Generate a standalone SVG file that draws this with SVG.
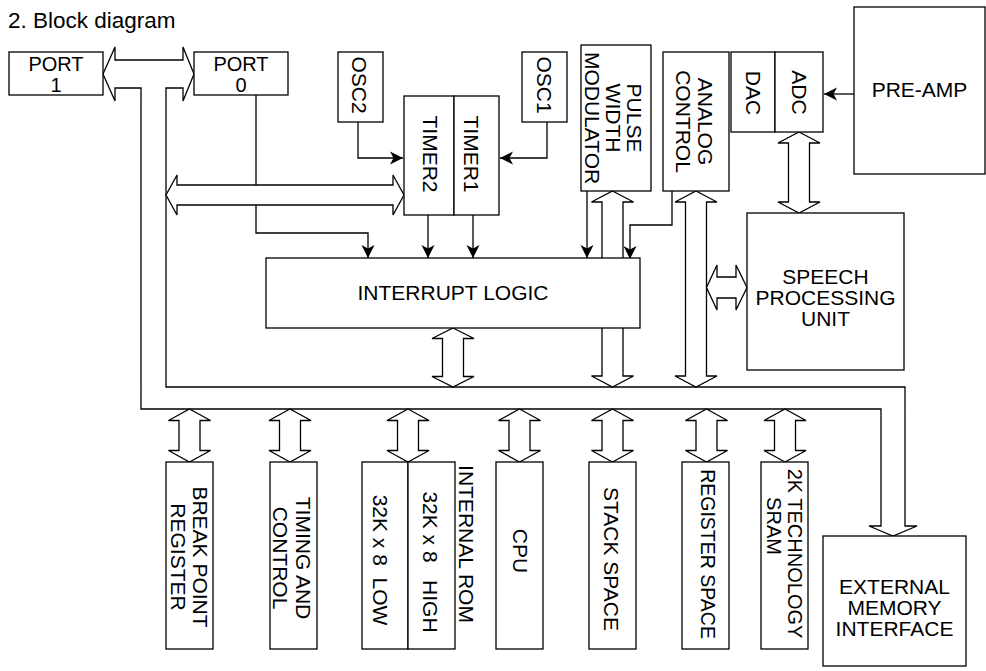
<svg xmlns="http://www.w3.org/2000/svg" xmlns:xlink="http://www.w3.org/1999/xlink" width="986" height="671" viewBox="0 0 986 671">
<style>
  .box { fill: #fff; stroke: #000; stroke-width: 1.3; }
  .ln { fill: none; stroke: #000; stroke-width: 1.3; }
  .blk { fill: #fff; stroke: #000; stroke-width: 1.3; stroke-linejoin: miter; }
  text { font-family: "Liberation Sans", Arial, sans-serif; font-size: 21px; fill: #000; }
  .c { text-anchor: middle; }
  .pre { white-space: pre; }
</style>
<defs>
  <marker id="ah" markerWidth="14" markerHeight="14" refX="13" refY="7" orient="auto" markerUnits="userSpaceOnUse">
    <path d="M0,0.5 L13,7 L0,13.5 L3.5,7 Z" fill="#000"/>
  </marker>
  <path id="dbl" class="blk" d="M0,0 L21,11.5 L10.5,11.5 L10.5,41.5 L21,41.5 L0,53 L-21,41.5 L-10.5,41.5 L-10.5,11.5 L-21,11.5 Z"/>
</defs>
<rect width="986" height="671" fill="#fff"/>
<text x="8" y="28" style="font-size:22.5px">2. Block diagram</text>

<g id="connectors">
  <path class="ln" d="M358,122 V158 H403" marker-end="url(#ah)"/>
  <path class="ln" d="M547,122 V158 H500" marker-end="url(#ah)"/>
  <path class="ln" d="M428,215 V258" marker-end="url(#ah)"/>
  <path class="ln" d="M473,215 V258" marker-end="url(#ah)"/>
  <path class="ln" d="M256,95 V233 H368 V258" marker-end="url(#ah)"/>
  <path class="ln" d="M587,191 V258" marker-end="url(#ah)"/>
  <path class="ln" d="M672,191 V225 H630 V259" marker-end="url(#ah)"/>
  <path class="ln" d="M854,94 H824" marker-end="url(#ah)"/>
  <polygon class="blk" points="103,74 115,47 115,60 183,60 183,47 194,74 183,101 183,88 166,88 166,387 905,387 905,526 917,526 893,536 869,526 881,526 881,409 141,409 141,88 115,88 115,101"/>
  <polygon class="blk" points="166,195 177,175 177,185 393,185 393,175 404,195 393,215 393,205 177,205 177,215"/>
  <polygon class="blk" points="453,328 474,338.5 463.5,338.5 463.5,376.5 474,376.5 453,387 432,376.5 442.5,376.5 442.5,338.5 432,338.5"/>
  <polygon class="blk" points="612.5,191 633.5,202 623,202 623,376 633.5,376 612.5,387 591.5,376 602,376 602,202 591.5,202"/>
  <polygon class="blk" points="696,191 717,202 706.5,202 706.5,376 717,376 696,387 675,376 685.5,376 685.5,202 675,202"/>
  <polygon class="blk" points="706.5,287.5 717,265 717,277 736,277 736,265 747,287.5 736,310 736,298 717,298 717,310"/>
  <polygon class="blk" points="799,132 820,143 809.5,143 809.5,202 820,202 799,213 778,202 788.5,202 788.5,143 778,143"/>
  <use xlink:href="#dbl" x="189.5" y="409"/>
  <use xlink:href="#dbl" x="290" y="409"/>
  <use xlink:href="#dbl" x="408" y="409"/>
  <use xlink:href="#dbl" x="519.5" y="409"/>
  <use xlink:href="#dbl" x="612.5" y="409"/>
  <use xlink:href="#dbl" x="706.5" y="409"/>
  <use xlink:href="#dbl" x="785" y="409"/>
</g>

<g id="port1">
  <rect class="box" x="9" y="52" width="94" height="43"/>
  <text class="c" x="56" y="71" style="font-size:20px">PORT</text>
  <text class="c" x="56" y="92" style="font-size:20px">1</text>
</g>
<g id="port0">
  <rect class="box" x="194" y="52" width="94" height="43"/>
  <text class="c" x="241" y="71" style="font-size:20px">PORT</text>
  <text class="c" x="241" y="92" style="font-size:20px">0</text>
</g>
<g id="osc2">
  <rect class="box" x="338" y="52" width="45" height="70"/>
  <text class="c" transform="translate(359.5,85) rotate(90)" y="7.5">OSC2</text>
</g>
<g id="osc1">
  <rect class="box" x="522" y="52" width="45" height="70"/>
  <text class="c" transform="translate(544.5,85) rotate(90)" y="7.5">OSC1</text>
</g>
<g id="timer2">
  <rect class="box" x="404" y="96" width="50" height="119"/>
  <text class="c" transform="translate(430,154) rotate(90)" y="7.5">TIMER2</text>
</g>
<g id="timer1">
  <rect class="box" x="454" y="96" width="45" height="119"/>
  <text class="c" transform="translate(471,154) rotate(90)" y="7.5">TIMER1</text>
</g>
<g id="pwm">
  <rect class="box" x="581" y="45" width="70" height="146"/>
  <text class="c" transform="translate(634.5,118) rotate(90)" y="7.5">PULSE</text>
  <text class="c" transform="translate(613.5,118) rotate(90)" y="7.5">WIDTH</text>
  <text class="c" transform="translate(592.5,118) rotate(90)" y="7.5">MODULATOR</text>
</g>
<g id="analog">
  <rect class="box" x="663" y="52" width="66" height="139"/>
  <text class="c" transform="translate(705,121.5) rotate(90)" y="7.5">ANALOG</text>
  <text class="c" transform="translate(683.5,121.5) rotate(90)" y="7.5">CONTROL</text>
</g>
<g id="dac">
  <rect class="box" x="731" y="52" width="44" height="80"/>
  <text class="c" transform="translate(753,93) rotate(90)" y="7.5">DAC</text>
</g>
<g id="adc">
  <rect class="box" x="775" y="52" width="48" height="80"/>
  <text class="c" transform="translate(799,92.5) rotate(90)" y="7.5">ADC</text>
</g>
<g id="preamp">
  <rect class="box" x="854" y="7" width="131" height="167"/>
  <text class="c" x="919.5" y="97">PRE-AMP</text>
</g>
<g id="interrupt">
  <rect class="box" x="266" y="258" width="374" height="70"/>
  <text class="c" x="453" y="300">INTERRUPT LOGIC</text>
</g>
<g id="speech">
  <rect class="box" x="747" y="213" width="157" height="157"/>
  <text class="c" x="825.5" y="284">SPEECH</text>
  <text class="c" x="825.5" y="305">PROCESSING</text>
  <text class="c" x="825.5" y="326">UNIT</text>
</g>
<g id="breakpoint">
  <rect class="box" x="166" y="462" width="47" height="187"/>
  <text class="c" transform="translate(200,557) rotate(90)" y="7.5">BREAK POINT</text>
  <text class="c" transform="translate(178.5,557) rotate(90)" y="7.5">REGISTER</text>
</g>
<g id="timing">
  <rect class="box" x="270" y="462" width="47" height="187"/>
  <text class="c" transform="translate(303,558) rotate(90)" y="7.5">TIMING AND</text>
  <text class="c" transform="translate(280.5,558) rotate(90)" y="7.5">CONTROL</text>
</g>
<g id="rom-low">
  <rect class="box" x="362" y="462" width="46" height="187"/>
  <text class="c pre" transform="translate(380.5,560) rotate(90)" y="7.5" xml:space="preserve">32K x 8  LOW</text>
</g>
<g id="rom-high">
  <rect class="box" x="408" y="462" width="47" height="187"/>
  <text class="c pre" transform="translate(430,562) rotate(90)" y="7.5" xml:space="preserve">32K x 8   HIGH</text>
</g>
<g id="internal-rom">
  <text class="c" transform="translate(466,544) rotate(90)" y="7.5">INTERNAL ROM</text>
</g>
<g id="cpu">
  <rect class="box" x="496" y="462" width="47" height="187"/>
  <text class="c" transform="translate(520,551) rotate(90)" y="7.5">CPU</text>
</g>
<g id="stack">
  <rect class="box" x="589" y="462" width="47" height="187"/>
  <text class="c" transform="translate(611.5,559) rotate(90)" y="7.5">STACK SPACE</text>
</g>
<g id="regspace">
  <rect class="box" x="682" y="462" width="47" height="187"/>
  <text class="c" transform="translate(708,554) rotate(90)" y="7" style="font-size:19.5px">REGISTER SPACE</text>
</g>
<g id="sram">
  <rect class="box" x="761" y="462" width="47" height="187"/>
  <text class="c" transform="translate(795,553.5) rotate(90)" y="7" style="font-size:20px">2K TECHNOLOGY</text>
  <text class="c" transform="translate(774,526) rotate(90)" y="7" style="font-size:20px">SRAM</text>
</g>
<g id="extmem">
  <rect class="box" x="823" y="536" width="143" height="130"/>
  <text class="c" x="894.5" y="594">EXTERNAL</text>
  <text class="c" x="894.5" y="615">MEMORY</text>
  <text class="c" x="894.5" y="636">INTERFACE</text>
</g>
</svg>
